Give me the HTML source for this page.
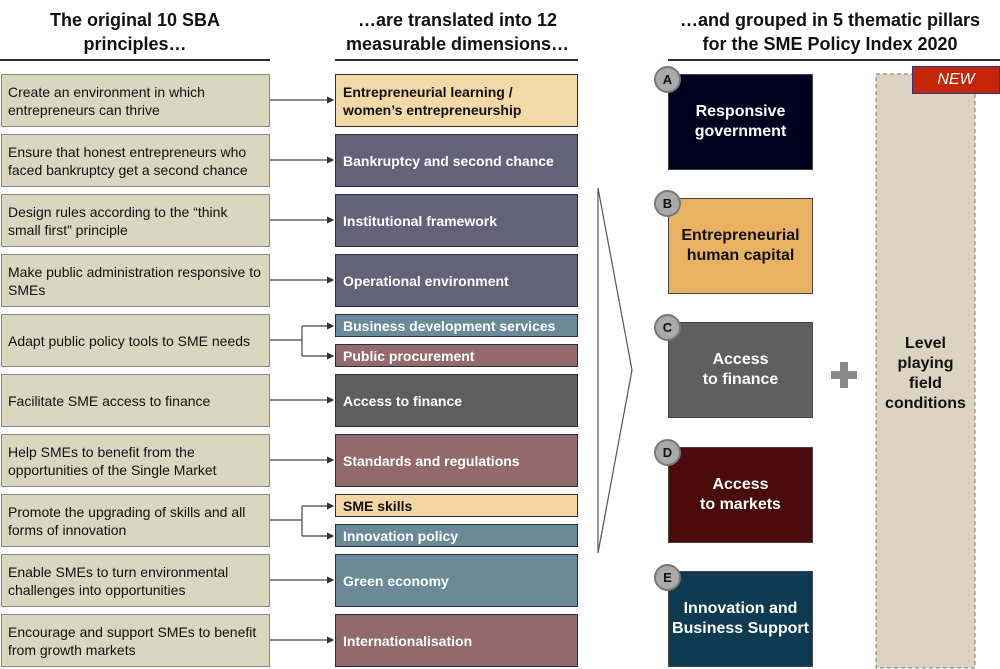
<!DOCTYPE html><html><head><style>
body{margin:0;width:1000px;height:669px;background:#fff;font-family:"Liberation Sans",sans-serif;position:relative;overflow:hidden}
.a{position:absolute;box-sizing:border-box}
.h{font-weight:bold;font-size:18px;text-align:center;color:#111;line-height:24px}
.l{background:#dbd6c0;border:1px solid #888;font-size:14px;color:#111;padding:0 6px;display:flex;align-items:center;line-height:18px;left:1px;width:269px}
.m{left:335px;width:243px;border:1.5px solid #2a2a4a;color:#fff;font-weight:bold;font-size:14px;display:flex;align-items:center;padding-left:7px;line-height:18px}
.p{left:668px;width:145px;height:96px;border:1px solid #444;color:#fff;font-weight:bold;font-size:16px;display:flex;align-items:center;justify-content:center;text-align:center;line-height:20px}
.c{width:27px;height:27px;border-radius:50%;background:#aaa;border:2px solid #777;font-weight:bold;font-size:13px;display:flex;align-items:center;justify-content:center;left:654px;color:#111}
</style></head><body>
<div class="a h" style="left:0;width:270px;top:8px">The original 10 SBA<br>principles…</div>
<div class="a h" style="left:320px;width:275px;top:8px">…are translated into 12<br>measurable dimensions…</div>
<div class="a h" style="left:660px;width:340px;top:8px">…and grouped in 5 thematic pillars<br>for the SME Policy Index 2020</div>
<div class="a" style="left:0;top:59px;width:270px;height:2px;background:#2a2a4a"></div>
<div class="a" style="left:335px;top:59px;width:243px;height:2px;background:#2a2a4a"></div>
<div class="a" style="left:668px;top:59px;width:332px;height:2px;background:#2a2a4a"></div>

<div class="a l" style="top:74px;height:53px">Create an environment in which entrepreneurs can thrive</div>
<div class="a l" style="top:134px;height:53px">Ensure that honest entrepreneurs who faced bankruptcy get a second chance</div>
<div class="a l" style="top:194px;height:53px">Design rules according to the “think small first” principle</div>
<div class="a l" style="top:254px;height:53px">Make public administration responsive to SMEs</div>
<div class="a l" style="top:314px;height:53px">Adapt public policy tools to SME needs</div>
<div class="a l" style="top:374px;height:53px">Facilitate SME access to finance</div>
<div class="a l" style="top:434px;height:53px">Help SMEs to benefit from the opportunities of the Single Market</div>
<div class="a l" style="top:494px;height:53px">Promote the upgrading of skills and all forms of innovation</div>
<div class="a l" style="top:554px;height:53px">Enable SMEs to turn environmental challenges into opportunities</div>
<div class="a l" style="top:614px;height:53px">Encourage and support SMEs to benefit from growth markets</div>

<div class="a m" style="top:74px;height:53px;background:#f3d9a8;color:#111">Entrepreneurial learning /<br>women’s entrepreneurship</div>
<div class="a m" style="top:134px;height:53px;background:#646278">Bankruptcy and second chance</div>
<div class="a m" style="top:194px;height:53px;background:#646278">Institutional framework</div>
<div class="a m" style="top:254px;height:53px;background:#646278">Operational environment</div>
<div class="a m" style="top:314px;height:23px;background:#6b8a98">Business development services</div>
<div class="a m" style="top:344px;height:23px;background:#946a6a">Public procurement</div>
<div class="a m" style="top:374px;height:53px;background:#5e5e5e">Access to finance</div>
<div class="a m" style="top:434px;height:53px;background:#936a6a">Standards and regulations</div>
<div class="a m" style="top:494px;height:23px;background:#f2d8a0;color:#111">SME skills</div>
<div class="a m" style="top:524px;height:23px;background:#6b8a98">Innovation policy</div>
<div class="a m" style="top:554px;height:53px;background:#6b8a98">Green economy</div>
<div class="a m" style="top:614px;height:53px;background:#936a6a">Internationalisation</div>

<svg class="a" style="left:0;top:0" width="1000" height="669">
<defs><marker id="ar" markerWidth="6" markerHeight="6" refX="5" refY="3" orient="auto"><path d="M0,0L6,3L0,6z" fill="#333"/></marker></defs>
<g stroke="#444" stroke-width="1.2" fill="none">
<path d="M270,100H333" marker-end="url(#ar)"/>
<path d="M270,160H333" marker-end="url(#ar)"/>
<path d="M270,220H333" marker-end="url(#ar)"/>
<path d="M270,280H333" marker-end="url(#ar)"/>
<path d="M270,340H302M302,326V356M302,326H333M302,356H333" />
<path d="M320,326H333" marker-end="url(#ar)"/><path d="M320,356H333" marker-end="url(#ar)"/>
<path d="M270,400H333" marker-end="url(#ar)"/>
<path d="M270,460H333" marker-end="url(#ar)"/>
<path d="M270,520H302M302,506V536M302,506H333M302,536H333"/>
<path d="M320,506H333" marker-end="url(#ar)"/><path d="M320,536H333" marker-end="url(#ar)"/>
<path d="M270,580H333" marker-end="url(#ar)"/>
<path d="M270,640H333" marker-end="url(#ar)"/>
<path d="M598,188L632,370L598,553Z" stroke="#555"/>
</g>
<rect x="876" y="74" width="99" height="594" fill="#dbd4c0" stroke="#777" stroke-dasharray="4,3"/>
<path d="M831,375H857M844,362V388" stroke="#888" stroke-width="8"/>
</svg>

<div class="a p" style="top:74px;background:#00001f">Responsive<br>government</div>
<div class="a p" style="top:198px;background:#e9b262;color:#111">Entrepreneurial<br>human capital</div>
<div class="a p" style="top:322px;background:#5f5f5f">Access<br>to finance</div>
<div class="a p" style="top:447px;background:#4b0b0b">Access<br>to markets</div>
<div class="a p" style="top:571px;background:#0e3a52">Innovation and<br>Business Support</div>
<div class="a c" style="top:66px">A</div>
<div class="a c" style="top:190px">B</div>
<div class="a c" style="top:314px">C</div>
<div class="a c" style="top:439px">D</div>
<div class="a c" style="top:564px">E</div>
<div class="a" style="left:912px;top:66px;width:88px;height:28px;background:#c4260a;border:1.5px solid #2a3a8a;color:#fff;font-style:italic;font-size:16px;display:flex;align-items:center;justify-content:center">NEW</div>
<div class="a" style="left:876px;top:334px;width:99px;text-align:center;font-weight:bold;font-size:16px;line-height:20px;color:#111">Level<br>playing<br>field<br>conditions</div>
</body></html>
